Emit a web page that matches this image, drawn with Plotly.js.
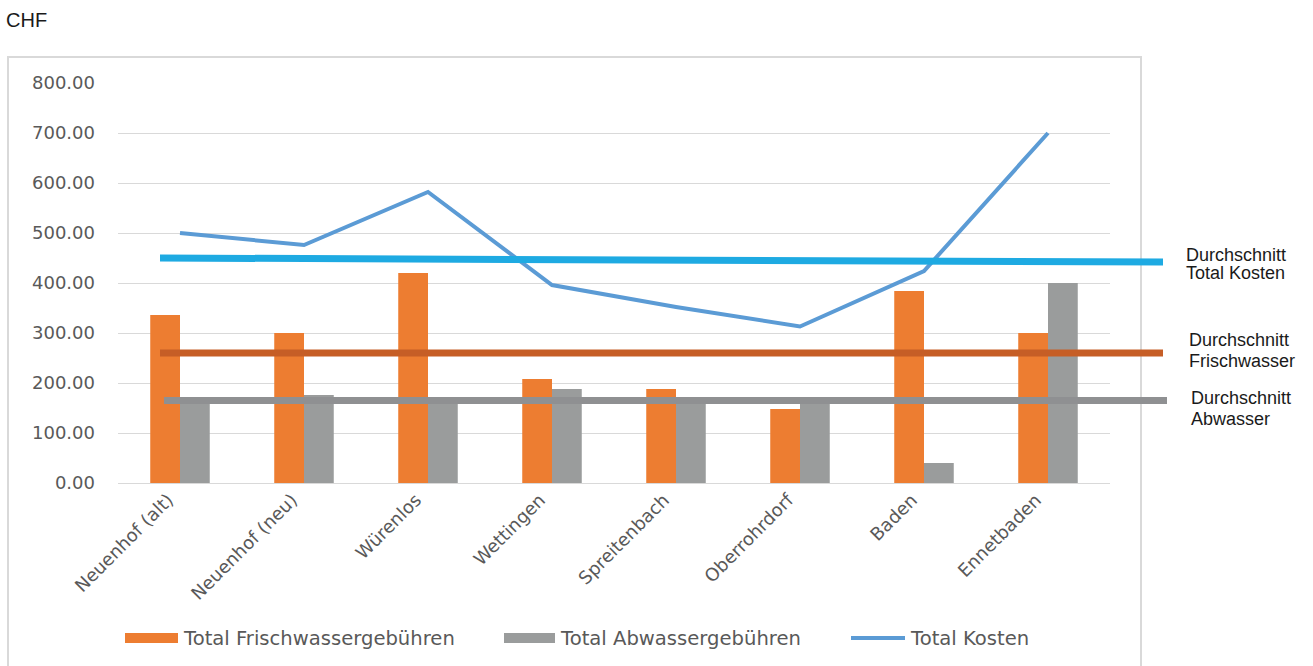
<!DOCTYPE html>
<html>
<head>
<meta charset="utf-8">
<script src="https://cdn.plot.ly/plotly-3.0.1.min.js"></script>
<style>
html,body{margin:0;padding:0;background:#fff;}
#chart{width:1313px;height:666px;}
</style>
</head>
<body>
<div id="chart"></div>
<script>
const categories = ["Neuenhof (alt)", "Neuenhof (neu)", "Würenlos", "Wettingen", "Spreitenbach", "Oberrohrdorf", "Baden", "Ennetbaden"];
const frischwasser = [336, 300, 420, 208, 188, 148, 384, 300];
const abwasser = [164, 176, 162, 188, 164, 165, 40, 400];
const totalKosten = [500, 476, 582, 396, 352, 313, 424, 700];
const avgTotal = [450, 442];   // start, end of the drawn average line
const avgFrisch = [260, 260];
const avgAbwasser = [165, 165];
const yTicks = [0, 100, 200, 300, 400, 500, 600, 700, 800];
const seriesNames = ["Total Frischwassergebühren", "Total Abwassergebühren", "Total Kosten"];
const avgLabels = [["Durchschnitt", "Total Kosten"], ["Durchschnitt", "Frischwasser"], ["Durchschnitt", "Abwasser"]];

const cOrange = "#ed7d31", cGray = "#9a9c9c", cBlue = "#5b9bd5";
const cAvgTotal = "#1eaae2", cAvgFrisch = "#c65e26", cAvgAb = "#8f9092";

const W = 1313, H = 666, L = 118, R = 1110, T = 83, B = 483;
const px = x => (x - L) / (R - L);
const py = y => (B - y) / (B - T);

const traces = [
  {type: "bar", x: categories, y: frischwasser, name: seriesNames[0], marker: {color: cOrange}, showlegend: false},
  {type: "bar", x: categories, y: abwasser, name: seriesNames[1], marker: {color: cGray}, showlegend: false},
  {type: "scatter", mode: "lines", x: categories, y: totalKosten, name: seriesNames[2], line: {color: cBlue, width: 4}, showlegend: false}
];

const shapes = [
  // outer frame
  {type: "rect", xref: "paper", yref: "paper", x0: px(8), x1: px(1141), y0: py(57), y1: py(672), line: {color: "#d9d9d9", width: 2}, fillcolor: "rgba(0,0,0,0)", layer: "below"},
  // averages
  {type: "line", xref: "paper", yref: "y", x0: px(160), x1: px(1163), y0: avgTotal[0], y1: avgTotal[1], line: {color: cAvgTotal, width: 7}, layer: "above"},
  {type: "line", xref: "paper", yref: "y", x0: px(160), x1: px(1163), y0: avgFrisch[0], y1: avgFrisch[1], line: {color: cAvgFrisch, width: 7}, layer: "above"},
  {type: "line", xref: "paper", yref: "y", x0: px(164), x1: px(1167), y0: avgAbwasser[0], y1: avgAbwasser[1], line: {color: cAvgAb, width: 7}, layer: "above"},
  // legend swatches
  {type: "rect", xref: "paper", yref: "paper", x0: px(125), x1: px(178), y0: py(633), y1: py(643), fillcolor: cOrange, line: {width: 0}},
  {type: "rect", xref: "paper", yref: "paper", x0: px(504), x1: px(555), y0: py(633), y1: py(643), fillcolor: cGray, line: {width: 0}},
  {type: "line", xref: "paper", yref: "paper", x0: px(851), x1: px(905), y0: py(638), y1: py(638), line: {color: cBlue, width: 4}}
];

const lblFont = {family: "Liberation Sans, Arial, sans-serif", size: 18, color: "#1a1a1a"};
const legFont = {family: "DejaVu Sans, sans-serif", size: 19.6, color: "#595959"};
const annotations = [
  {xref: "paper", yref: "paper", x: px(4), y: py(20), text: "CHF", showarrow: false, xanchor: "left", yanchor: "middle", font: {family: "Liberation Sans, Arial, sans-serif", size: 20, color: "#1a1a1a"}},
  {xref: "paper", yref: "paper", x: px(181), y: py(638), text: seriesNames[0], showarrow: false, xanchor: "left", yanchor: "middle", font: legFont},
  {xref: "paper", yref: "paper", x: px(558), y: py(638), text: seriesNames[1], showarrow: false, xanchor: "left", yanchor: "middle", font: legFont},
  {xref: "paper", yref: "paper", x: px(908), y: py(638), text: seriesNames[2], showarrow: false, xanchor: "left", yanchor: "middle", font: legFont}
];
const lblPos = [[1184, 255, 273], [1187, 340, 361], [1189, 398, 419]];
avgLabels.forEach((lines, i) => {
  lines.forEach((t, j) => {
    annotations.push({xref: "paper", yref: "paper", x: px(lblPos[i][0]), y: py(lblPos[i][1 + j]), text: t, showarrow: false, xanchor: "left", yanchor: "middle", align: "left", font: lblFont});
  });
});

const layout = {
  width: W, height: H,
  margin: {l: L, r: W - R, t: T, b: H - B},
  paper_bgcolor: "#fff", plot_bgcolor: "#fff",
  barmode: "group", bargap: 0.52, bargroupgap: 0,
  showlegend: false,
  xaxis: {
    type: "category", tickangle: -45, showgrid: false, zeroline: false, showline: false,
    ticks: "", ticklen: 0, ticklabelshift: -12, ticklabelstandoff: 2,
    tickfont: {family: "DejaVu Sans, sans-serif", size: 18, color: "#595959"}
  },
  yaxis: {
    range: [0, 800], tickvals: yTicks, ticktext: yTicks.map(v => v.toFixed(2)),
    showgrid: true, gridcolor: "#d9d9d9", gridwidth: 1, zeroline: true, zerolinecolor: "#d9d9d9", zerolinewidth: 1,
    showline: false, ticks: "", ticklabelstandoff: 22,
    tickfont: {family: "DejaVu Sans, sans-serif", size: 18, color: "#595959"}
  },
  shapes: shapes,
  annotations: annotations
};

Plotly.newPlot("chart", traces, layout, {displayModeBar: false, staticPlot: true});
</script>
</body>
</html>
